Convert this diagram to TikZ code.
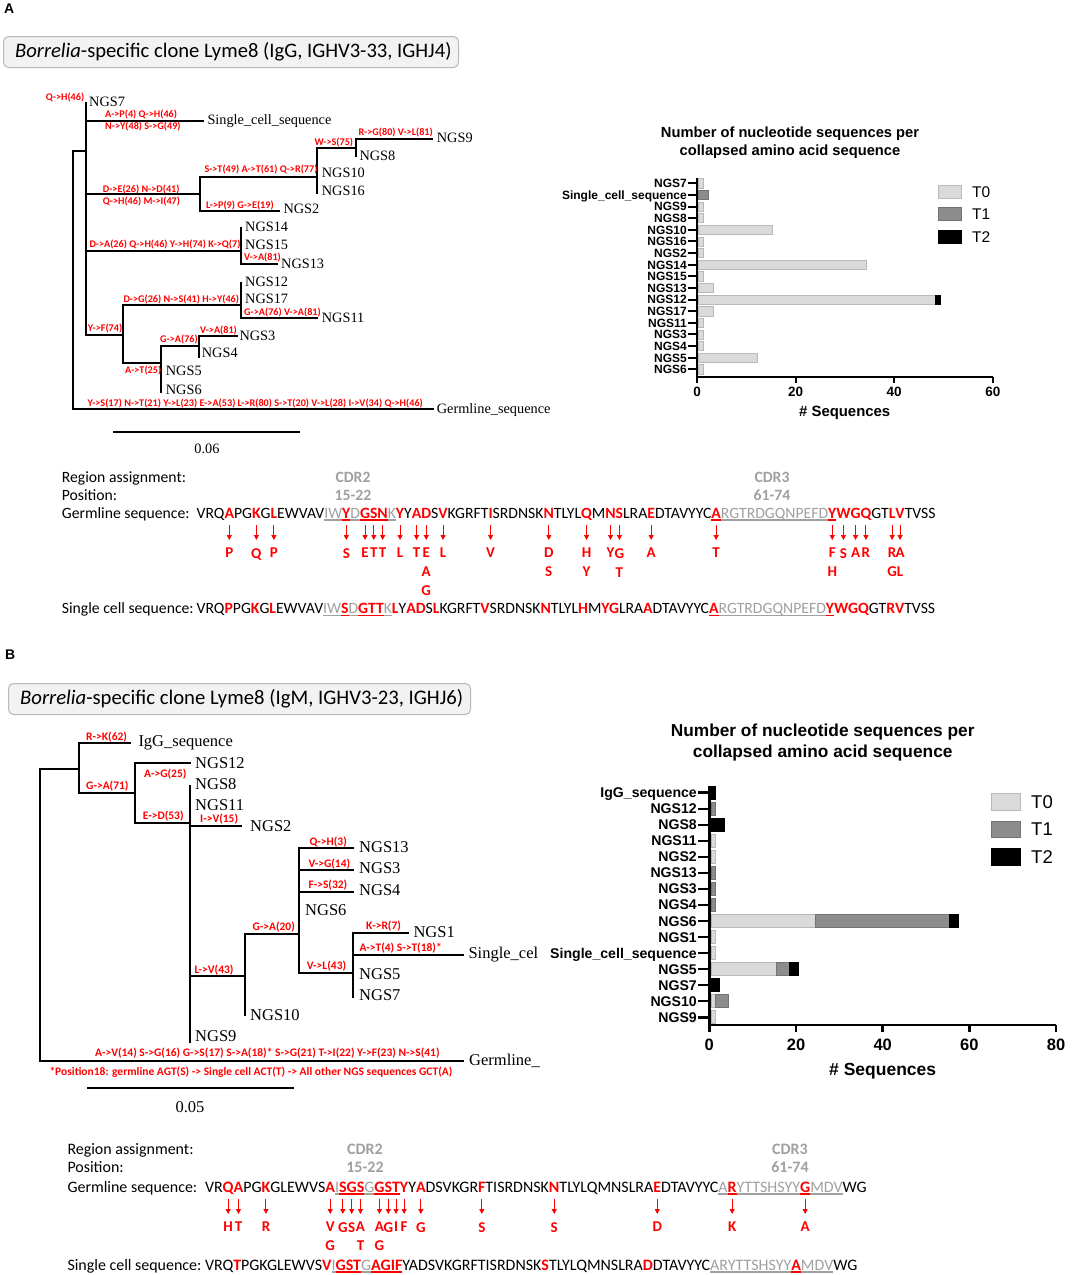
\documentclass[tikz,border=0pt]{standalone}
\usepackage{fontspec}
\setmainfont{Liberation Serif}
\newfontfamily\calib{Carlito}
\newfontfamily\arialf{Liberation Sans}
\usetikzlibrary{arrows.meta}
\definecolor{mred}{RGB}{255,0,0}
\definecolor{cdrgray}{RGB}{160,160,160}
\definecolor{tzero}{RGB}{218,218,218}
\definecolor{tone}{RGB}{140,140,140}
\definecolor{boxfill}{RGB}{242,242,242}
\definecolor{boxline}{RGB}{185,185,185}
\def\seqsz{15.7}
\def\seqfont{\calib\fontsize{\seqsz}{19}\selectfont}
\def\seqfontb{\calib\bfseries\fontsize{\seqsz}{19}\selectfont}
\def\nosub{-}
\newcommand\seqrow[3]{%
  \coordinate (#1cur) at (#2);
  \foreach \tx/\sty/\ulc/\mut [count=\n] in {#3} {%
    \node[seqnode, seq\sty] (#1\n) at (#1cur) {\tx};
    \coordinate (#1cur) at (#1\n.base east);
    \if\ulc n\else
      \draw[ulline, ul\ulc] ([yshift=-2pt]#1\n.base west) -- ([yshift=-2pt]#1\n.base east);
    \fi
    \ifx\mut\nosub\else
      \node[subnode] (#1m\n) at ([yshift=-30pt]#1\n.base) {\mut};
      \draw[mutarrow] ([yshift=-7pt]#1\n.base) -- ([yshift=8pt]#1m\n.north);
    \fi
  }%
}
\begin{document}
\begin{tikzpicture}[x=1pt,y=-1pt,
  branch/.style={line width=2.3pt, line cap=rect},
  leafA/.style={font=\fontsize{14.3}{16}\selectfont, anchor=base west, inner sep=0},
  leafB/.style={font=\fontsize{16.5}{18}\selectfont, anchor=base west, inner sep=0},
  mutA/.style={font=\calib\bfseries\fontsize{10.2}{12}\selectfont, text=mred, anchor=base west, inner sep=0},
  mutB/.style={font=\calib\bfseries\fontsize{11.5}{13}\selectfont, text=mred, anchor=base west, inner sep=0},
  panel/.style={font=\arialf\bfseries\fontsize{14}{16}\selectfont, anchor=north west, inner sep=0},
  titlebox/.style={rounded corners=5pt, fill=boxfill, draw=boxline, line width=1pt, anchor=north west, inner sep=0},
  seqnode/.style={inner sep=0, outer sep=0, anchor=base west, font=\seqfont},
  seqk/.style={text=black},
  seqr/.style={text=mred, font=\seqfontb},
  seqg/.style={text=cdrgray},
  ulline/.style={line width=1.1pt},
  ulg/.style={draw=cdrgray},
  ulr/.style={draw=mred},
  subnode/.style={font=\calib\bfseries\fontsize{15}{19}\selectfont, text=mred, align=center, anchor=north, inner sep=0},
  mutarrow/.style={draw=mred, line width=1pt, -{Triangle[length=5pt,width=5pt]}},
  seqlabel/.style={font=\seqfont, anchor=base west, inner sep=0},
  cdrlabel/.style={font=\seqfontb, text=cdrgray, anchor=base, inner sep=0},
  axisA/.style={line width=2pt},
  axisB/.style={line width=2.5pt},
  bT0/.style={fill=tzero, draw=black!28, line width=0.6pt},
  bT1/.style={fill=tone, draw=black!55, line width=0.6pt},
  bT2/.style={fill=black, draw=black, line width=0.6pt},
  catA/.style={font=\arialf\bfseries\fontsize{12}{14}\selectfont, anchor=base east, inner sep=0},
  catB/.style={font=\arialf\bfseries\fontsize{14.1}{16}\selectfont, anchor=base east, inner sep=0},
]
\useasboundingbox[fill=white] (0,0) rectangle (1084,1275);

%================ PANEL A =================
\node[panel] (pA) at (4,4) {A};
\node[titlebox, minimum width=455pt, minimum height=31pt] (titleA) at (3,36) {};
\node[font=\calib\fontsize{20.6}{22}\selectfont, anchor=west, inner sep=0] (titleAtext) at (15,52) {\textit{Borrelia}-specific clone Lyme8 (IgG, IGHV3-33, IGHJ4)};

% tree A
\draw[branch] (86,151) -- (73,151) -- (73,409) -- (433,409);
\draw[branch] (86,103) -- (86,335) -- (123,335);
\draw[branch] (86,121) -- (203,121);
\draw[branch] (86,194) -- (200,194);
\draw[branch] (317,177) -- (200,177) -- (200,211) -- (279,211);
\draw[branch] (317,148) -- (317,193);
\draw[branch] (317,148) -- (356,148);
\draw[branch] (356,139) -- (356,156);
\draw[branch] (356,139) -- (432,139);
\draw[branch] (86,251) -- (241,251);
\draw[branch] (241,228) -- (241,264) -- (277,264);
\draw[branch] (123,305) -- (123,363);
\draw[branch] (123,305) -- (241,305);
\draw[branch] (241,283) -- (241,318) -- (317,318);
\draw[branch] (123,363) -- (161,363);
\draw[branch] (161,346) -- (161,392);
\draw[branch] (161,346) -- (199,346);
\draw[branch] (199,336) -- (199,357);
\draw[branch] (199,336) -- (237,336);
\draw[branch] (114,432) -- (299,432);
\node[font=\fontsize{14.3}{16}\selectfont, inner sep=0] (scaleA) at (207,449) {0.06};

\node[leafA] (aN7) at (89,106) {NGS7};
\node[leafA] (aSC) at (207.3,124.5) {Single\_cell\_sequence};
\node[leafA] (aN9) at (436.7,142.3) {NGS9};
\node[leafA] (aN8) at (359.3,160) {NGS8};
\node[leafA] (aN10) at (321.7,177.7) {NGS10};
\node[leafA] (aN16) at (321.7,195) {NGS16};
\node[leafA] (aN2) at (283.3,213.3) {NGS2};
\node[leafA] (aN14) at (245,231.7) {NGS14};
\node[leafA] (aN15) at (245,249.3) {NGS15};
\node[leafA] (aN13) at (281,268) {NGS13};
\node[leafA] (aN12) at (245,286) {NGS12};
\node[leafA] (aN17) at (245,303.3) {NGS17};
\node[leafA] (aN11) at (321.7,322.3) {NGS11};
\node[leafA] (aN3) at (239.3,340) {NGS3};
\node[leafA] (aN4) at (201.7,357.7) {NGS4};
\node[leafA] (aN5) at (165.7,375.7) {NGS5};
\node[leafA] (aN6) at (165.7,394) {NGS6};
\node[leafA] (aGL) at (436.7,413.3) {Germline\_sequence};

\node[mutA] (ma1) at (45.7,100) {Q->H(46)};
\node[mutA] (ma2) at (105,117) {A->P(4) Q->H(46)};
\node[mutA] (ma3) at (105,129) {N->Y(48) S->G(49)};
\node[mutA] (ma4) at (102.7,192.5) {D->E(26) N->D(41)};
\node[mutA] (ma5) at (102.7,204.5) {Q->H(46) M->I(47)};
\node[mutA] (ma6) at (204.3,172.8) {S->T(49) A->T(61) Q->R(77)};
\node[mutA] (ma7) at (206,208.5) {L->P(9) G->E(19)};
\node[mutA] (ma8) at (314.3,145.8) {W->S(75)};
\node[mutA] (ma9) at (358.3,135.8) {R->G(80) V->L(81)};
\node[mutA] (ma10) at (89.3,247.8) {D->A(26) Q->H(46) Y->H(74) K->Q(7)};
\node[mutA] (ma11) at (244,260.8) {V->A(81)};
\node[mutA] (ma12) at (123.3,302.8) {D->G(26) N->S(41) H->Y(46)};
\node[mutA] (ma13) at (244,315.8) {G->A(76) V->A(81)};
\node[mutA] (ma14) at (87.7,331.8) {Y->F(74)};
\node[mutA] (ma15) at (200,333.5) {V->A(81)};
\node[mutA] (ma16) at (160,342.8) {G->A(76)};
\node[mutA] (ma17) at (125,373.5) {A->T(25)};
\node[mutA] (ma18) at (87.3,406) {Y->S(17) N->T(21) Y->L(23) E->A(53) L->R(80) S->T(20) V->L(28) I->V(34) Q->H(46)};

% chart A
\node[font=\arialf\bfseries\fontsize{14.7}{18}\selectfont, align=center, inner sep=0] (chtA) at (790,143) {Number of nucleotide sequences per\\collapsed amino acid sequence};
\foreach \lab/\a/\b/\c [count=\i] in {NGS7/1/0/0, Single\_cell\_sequence/0/2/0, NGS9/1/0/0, NGS8/1/0/0, NGS10/15/0/0, NGS16/1/0/0, NGS2/1/0/0, NGS14/34/0/0, NGS15/1/0/0, NGS13/3/0/0, NGS12/48/0/1, NGS17/3/0/0, NGS11/1/0/0, NGS3/1/0/0, NGS4/1/0/0, NGS5/12/0/0, NGS6/1/0/0} {
  \pgfmathsetmacro\yy{183.3+(\i-1)*11.63}
  \pgfmathsetmacro\xs{698.5}
  \pgfmathsetmacro\xe{\xs+\a*4.93}
  \pgfmathsetmacro\xf{\xe+\b*4.93}
  \pgfmathsetmacro\xg{\xf+\c*4.93}
  \ifnum\a>0 \draw[bT0] (\xs,\yy-4.6) rectangle (\xe,\yy+4.6); \fi
  \ifnum\b>0 \draw[bT1] (\xe,\yy-4.6) rectangle (\xf,\yy+4.6); \fi
  \ifnum\c>0 \draw[bT2] (\xf,\yy-4.6) rectangle (\xg,\yy+4.6); \fi
  \node[catA] (ca\i) at (687,\yy+4.3) {\lab};
  \draw[axisA] (688,\yy) -- (697,\yy);
}
\draw[axisA] (697,178) -- (697,377) -- (993,377);
\foreach \v in {0,20,40,60} {
  \draw[axisA] (697+\v*4.93,377) -- (697+\v*4.93,383);
  \node[font=\arialf\bfseries\fontsize{13.5}{15}\selectfont, inner sep=0] (ta\v) at (697+\v*4.93,391.7) {\v};
}
\node[font=\arialf\bfseries\fontsize{14.9}{16}\selectfont, inner sep=0] (xlabA) at (844.7,413.3) {\# Sequences};
\foreach \cc/\st/\l/\y in {tzero/bT0/T0/191.7, tone/bT1/T1/214, black/bT2/T2/236.7} {
  \draw[\st] (938,\y-6.7) rectangle (961.7,\y+6.7);
  \node[font=\arialf\fontsize{15.5}{17}\selectfont, anchor=west, inner sep=0] (lgA\l) at (972,\y) {\l};
}

% sequences A
\node[seqlabel] (regA) at (61.7,482) {Region assignment:};
\node[seqlabel] (posA) at (61.7,500) {Position:};
\node[seqlabel] (glA) at (61.7,518) {Germline sequence:};
\node[seqlabel] (scA) at (61.7,613.3) {Single cell sequence:};
\node[cdrlabel] (cdr2A) at (353,482) {CDR2};
\node[cdrlabel] (p2A) at (353,500) {15-22};
\node[cdrlabel] (cdr3A) at (772,482) {CDR3};
\node[cdrlabel] (p3A) at (772,500) {61-74};
\seqrow{GA}{196.7,518}{VRQ/k/n/-, A/r/n/P, PG/k/n/-, K/r/n/Q, G/k/n/-, L/r/n/P, EWVAV/k/n/-, IW/g/g/-, Y/r/r/S, D/g/g/-, G/r/r/E, S/r/r/T, N/r/r/T, K/g/g/-, Y/r/n/L, Y/k/n/-, A/r/n/T, D/r/n/{E\\A\\G}, S/k/n/-, V/r/n/L, KGRFT/k/n/-, I/r/n/V, SRDNSK/k/n/-, N/r/n/{D\\S}, TLYL/k/n/-, Q/r/n/{H\\Y}, M/k/n/-, N/r/n/Y, S/r/n/{G\\T}, LRA/k/n/-, E/r/n/A, DTAVYYC/k/n/-, A/r/r/T, RGTRDGQNPEFD/g/g/-, Y/r/r/{F\\H}, W/r/n/S, G/r/n/A, Q/r/n/R, GT/k/n/-, L/r/n/{R\\G}, V/r/n/{A\\L}, TVSS/k/n/-}
\seqrow{SA}{196.7,613.3}{VRQ/k/n/-, P/r/n/-, PG/k/n/-, K/r/n/-, G/k/n/-, L/r/n/-, EWVAV/k/n/-, IW/g/g/-, S/r/r/-, D/g/g/-, GTT/r/r/-, K/g/g/-, L/r/n/-, Y/k/n/-, AD/r/n/-, S/k/n/-, L/r/n/-, KGRFT/k/n/-, V/r/n/-, SRDNSK/k/n/-, N/r/n/-, TLYL/k/n/-, H/r/n/-, M/k/n/-, YG/r/n/-, LRA/k/n/-, A/r/n/-, DTAVYYC/k/n/-, A/r/r/-, RGTRDGQNPEFD/g/g/-, Y/r/r/-, WGQ/r/n/-, GT/k/n/-, RV/r/n/-, TVSS/k/n/-}

%================ PANEL B =================
\node[panel] (pB) at (5,650) {B};
\node[titlebox, minimum width=462pt, minimum height=31pt] (titleB) at (8,683) {};
\node[font=\calib\fontsize{20.7}{22}\selectfont, anchor=west, inner sep=0] (titleBtext) at (20,698.5) {\textit{Borrelia}-specific clone Lyme8 (IgM, IGHV3-23, IGHJ6)};

% tree B
\draw[branch] (79,769) -- (40,769) -- (40,1061) -- (463,1061);
\draw[branch] (130,743) -- (79,743) -- (79,793) -- (135,793);
\draw[branch] (190,763) -- (135,763) -- (135,823) -- (190,823);
\draw[branch] (190,786) -- (190,1042);
\draw[branch] (190,826) -- (241,826);
\draw[branch] (190,976) -- (245,976);
\draw[branch] (245,934) -- (245,1015);
\draw[branch] (245,934) -- (299,934);
\draw[branch] (299,848) -- (299,973);
\draw[branch] (299,848) -- (353,848);
\draw[branch] (299,870) -- (353,870);
\draw[branch] (299,892) -- (353,892);
\draw[branch] (299,973) -- (353,973);
\draw[branch] (353,933) -- (353,997);
\draw[branch] (353,933) -- (408,933);
\draw[branch] (353,955) -- (463,955);
\draw[branch] (88,1088) -- (293,1088);
\node[font=\fontsize{16.5}{18}\selectfont, inner sep=0] (scaleB) at (190,1107) {0.05};

\node[leafB] (bIgG) at (138.3,746.7) {IgG\_sequence};
\node[leafB] (bN12) at (195,768.3) {NGS12};
\node[leafB] (bN8) at (195,789) {NGS8};
\node[leafB] (bN11) at (195,810) {NGS11};
\node[leafB] (bN2) at (250,831.7) {NGS2};
\node[leafB] (bN13) at (359,852.3) {NGS13};
\node[leafB] (bN3) at (359,873.3) {NGS3};
\node[leafB] (bN4) at (359,895) {NGS4};
\node[leafB] (bN6) at (305,915) {NGS6};
\node[leafB] (bN1) at (413.3,937.3) {NGS1};
\node[leafB] (bSC) at (468.3,958.3) {Single\_cel};
\node[leafB] (bN5) at (359,979.3) {NGS5};
\node[leafB] (bN7) at (359,1000) {NGS7};
\node[leafB] (bN10) at (250,1020.7) {NGS10};
\node[leafB] (bN9) at (195,1041.7) {NGS9};
\node[leafB] (bGL) at (469,1065) {Germline\_};

\node[mutB] (mb1) at (86,740.7) {R->K(62)};
\node[mutB] (mb2) at (86,789.7) {G->A(71)};
\node[mutB] (mb3) at (144,777.3) {A->G(25)};
\node[mutB] (mb4) at (142.7,819) {E->D(53)};
\node[mutB] (mb5) at (200,822) {I->V(15)};
\node[mutB] (mb6) at (194.3,973) {L->V(43)};
\node[mutB] (mb7) at (252.3,930.7) {G->A(20)};
\node[mutB] (mb8) at (309.3,845.7) {Q->H(3)};
\node[mutB] (mb9) at (308.3,867.3) {V->G(14)};
\node[mutB] (mb10) at (308.3,888.3) {F->S(32)};
\node[mutB] (mb11) at (306.7,969) {V->L(43)};
\node[mutB] (mb12) at (366,929.7) {K->R(7)};
\node[mutB] (mb13) at (359.3,951.3) {A->T(4) S->T(18)*};
\node[mutB] (mb14) at (95,1056.3) {A->V(14) S->G(16) G->S(17) S->A(18)* S->G(21) T->I(22) Y->F(23) N->S(41)};
\node[mutB] (mb15) at (49.3,1075.5) {*Position18: germline AGT(S) -> Single cell ACT(T) -> All other NGS sequences GCT(A)};

% chart B
\node[font=\arialf\bfseries\fontsize{17.3}{21.6}\selectfont, align=center, inner sep=0] (chtB) at (822.7,742.5) {Number of nucleotide sequences per\\collapsed amino acid sequence};
\foreach \lab/\a/\b/\c [count=\i] in {IgG\_sequence/0/0/1, NGS12/0/1/0, NGS8/0/0/3, NGS11/1/0/0, NGS2/1/0/0, NGS13/0/1/0, NGS3/0/1/0, NGS4/0/1/0, NGS6/24/31/2, NGS1/1/0/0, Single\_cell\_sequence/1/0/0, NGS5/15/3/2, NGS7/0/0/2, NGS10/1/3/0, NGS9/1/0/0} {
  \pgfmathsetmacro\yy{792.7+(\i-1)*16.04}
  \pgfmathsetmacro\xs{711}
  \pgfmathsetmacro\xe{\xs+\a*4.34}
  \pgfmathsetmacro\xf{\xe+\b*4.34}
  \pgfmathsetmacro\xg{\xf+\c*4.34}
  \ifnum\a>0 \draw[bT0] (\xs,\yy-6.5) rectangle (\xe,\yy+6.5); \fi
  \ifnum\b>0 \draw[bT1] (\xe,\yy-6.5) rectangle (\xf,\yy+6.5); \fi
  \ifnum\c>0 \draw[bT2] (\xf,\yy-6.5) rectangle (\xg,\yy+6.5); \fi
  \node[catB] (cb\i) at (697,\yy+5) {\lab};
  \draw[axisB] (698,\yy) -- (709.3,\yy);
}
\draw[axisB] (709.3,786) -- (709.3,1025) -- (1056,1025);
\foreach \v in {0,20,40,60,80} {
  \draw[axisB] (709.3+\v*4.335,1025) -- (709.3+\v*4.335,1032);
  \node[font=\arialf\bfseries\fontsize{16.5}{18}\selectfont, inner sep=0] (tb\v) at (709.3+\v*4.335,1045) {\v};
}
\node[font=\arialf\bfseries\fontsize{17.5}{19}\selectfont, inner sep=0] (xlabB) at (882.7,1071) {\# Sequences};
\foreach \cc/\st/\l/\y in {tzero/bT0/T0/801.7, tone/bT1/T1/829, black/bT2/T2/856.7} {
  \draw[\st] (991.7,\y-8.2) rectangle (1020,\y+8.2);
  \node[font=\arialf\fontsize{18.5}{20}\selectfont, anchor=west, inner sep=0] (lgB\l) at (1031,\y) {\l};
}

% sequences B
\def\seqsz{15.95}
\node[seqlabel] (regB) at (67.3,1154) {Region assignment:};
\node[seqlabel] (posB) at (67.3,1172) {Position:};
\node[seqlabel] (glB) at (67.3,1192) {Germline sequence:};
\node[seqlabel] (scB) at (67.3,1270) {Single cell sequence:};
\node[cdrlabel] (cdr2B) at (365,1154) {CDR2};
\node[cdrlabel] (p2B) at (365,1172) {15-22};
\node[cdrlabel] (cdr3B) at (790,1154) {CDR3};
\node[cdrlabel] (p3B) at (790,1172) {61-74};
\seqrow{GB}{205,1192}{VR/k/n/-, Q/r/n/H, A/r/n/T, PG/k/n/-, K/r/n/R, GLEWVS/k/n/-, A/r/n/{V\\G}, I/g/g/-, S/r/r/G, G/r/r/S, S/r/r/{A\\T}, G/g/g/-, G/r/r/{A\\G}, S/r/r/G, T/r/r/I, Y/r/n/F, Y/k/n/-, A/r/n/G, DSVKGR/k/n/-, F/r/n/S, TISRDNSK/k/n/-, N/r/n/S, TLYLQMNSLRA/k/n/-, E/r/n/D, DTAVYYC/k/n/-, A/g/g/-, R/r/r/K, YTTSHSYY/g/g/-, G/r/r/A, MDV/g/g/-, WG/k/n/-}
\seqrow{SB}{205,1270}{VRQ/k/n/-, T/r/n/-, PGKGLEWVS/k/n/-, V/r/n/-, I/g/g/-, GST/r/r/-, G/g/g/-, AGIF/r/r/-, YADSVKGRFTISRDNSK/k/n/-, S/r/n/-, TLYLQMNSLRA/k/n/-, D/r/n/-, DTAVYYC/k/n/-, ARYTTSHSYY/g/g/-, A/r/r/-, MDV/g/g/-, WG/k/n/-}
\end{tikzpicture}
\end{document}
